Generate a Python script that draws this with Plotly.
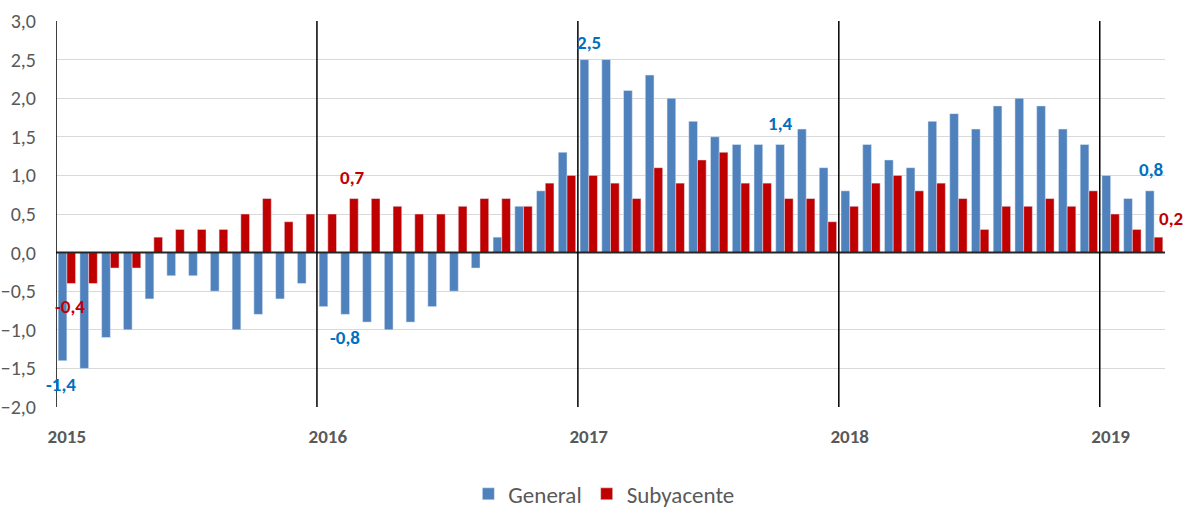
import plotly.graph_objects as go

# --- data -------------------------------------------------------------
months = [f"{y}-{m:02d}" for y in range(2015, 2020) for m in range(1, 13)][:51]
general = [-1.4, -1.5, -1.1, -1.0, -0.6, -0.3, -0.3, -0.5, -1.0, -0.8, -0.6, -0.4,
           -0.7, -0.8, -0.9, -1.0, -0.9, -0.7, -0.5, -0.2, 0.2, 0.6, 0.8, 1.3,
           2.5, 2.5, 2.1, 2.3, 2.0, 1.7, 1.5, 1.4, 1.4, 1.4, 1.6, 1.1,
           0.8, 1.4, 1.2, 1.1, 1.7, 1.8, 1.6, 1.9, 2.0, 1.9, 1.6, 1.4,
           1.0, 0.7, 0.8]
subyacente = [-0.4, -0.4, -0.2, -0.2, 0.2, 0.3, 0.3, 0.3, 0.5, 0.7, 0.4, 0.5,
              0.5, 0.7, 0.7, 0.6, 0.5, 0.5, 0.6, 0.7, 0.7, 0.6, 0.9, 1.0,
              1.0, 0.9, 0.7, 1.1, 0.9, 1.2, 1.3, 0.9, 0.9, 0.7, 0.7, 0.4,
              0.6, 0.9, 1.0, 0.8, 0.9, 0.7, 0.3, 0.6, 0.6, 0.7, 0.6, 0.8,
              0.5, 0.3, 0.2]
year_labels = ["2015", "2016", "2017", "2018", "2019"]
y_ticks = [-2.0, -1.5, -1.0, -0.5, 0.0, 0.5, 1.0, 1.5, 2.0, 2.5, 3.0]

# labelled points: (series, month index, xshift, yshift)
labels = [("general", 0, -6, -24), ("subyacente", 0, 3, -23),
          ("general", 13, -5, -23), ("subyacente", 13, 3, 21),
          ("general", 24, 0, 17), ("general", 33, -4, 21),
          ("general", 50, -3, 21), ("subyacente", 50, 17, 19)]

BLUE = "#4F81BD"
RED = "#C00000"
LBLUE = "#0070C0"
FONT = "Carlito, Calibri, Lato, sans-serif"
GREY = "#595959"

fig = go.Figure()
fig.add_trace(go.Bar(x=months, y=general, name="General", marker_color=BLUE))
fig.add_trace(go.Bar(x=months, y=subyacente, name="Subyacente", marker_color=RED))

# zero line above bars
fig.add_shape(type="line", xref="x", yref="y", x0=-0.5, x1=len(months) - 0.5, y0=0, y1=0,
              line=dict(color="#262626", width=2), layer="above")

# year separators
jan_idx = [i for i, m in enumerate(months) if m.endswith("-01")]
for i in jan_idx:
    fig.add_shape(type="line", xref="x", yref="y", x0=i - 0.5, x1=i - 0.5,
                  y0=y_ticks[0], y1=y_ticks[-1],
                  line=dict(color="black", width=1.5), layer="above")

series = {"general": (general, LBLUE), "subyacente": (subyacente, RED)}
for s, i, dx, dy in labels:
    vals, col = series[s]
    fig.add_annotation(x=months[i], y=vals[i], text=f"{vals[i]:.1f}".replace(".", ","),
                       showarrow=False, xshift=dx, yshift=dy,
                       font=dict(family=FONT, size=19, color=col, weight="bold"))

fig.update_layout(
    width=1185, height=511,
    margin=dict(l=56, r=20, t=21, b=104, autoexpand=False),
    plot_bgcolor="white", paper_bgcolor="white",
    barmode="group", bargap=0.2, bargroupgap=0.0,
    separators=",.",
    font=dict(family=FONT, color=GREY),
    showlegend=True,
    legend=dict(orientation="h", x=0.494, xanchor="center", y=-0.225, yanchor="middle",
                font=dict(size=23, color=GREY), traceorder="normal"),
    xaxis=dict(type="category", tickvals=[months[i] for i in jan_idx], ticktext=year_labels,
               showgrid=False, ticks="", ticklabelstandoff=16,
               tickfont=dict(size=19, color=GREY, weight="bold"),
               range=[-0.5, len(months) - 0.5], showline=False, zeroline=False),
    yaxis=dict(range=[y_ticks[0], y_ticks[-1]], tickvals=y_ticks, tickformat=".1f",
               showgrid=True, gridcolor="#D9D9D9", gridwidth=1.2,
               zeroline=False, ticks="", ticklabelstandoff=19,
               tickfont=dict(size=20, color=GREY), showline=False),
)

fig.write_html("out.html", config={"displayModeBar": False},
               post_script="document.body.style.margin='0';document.body.style.padding='0';")
